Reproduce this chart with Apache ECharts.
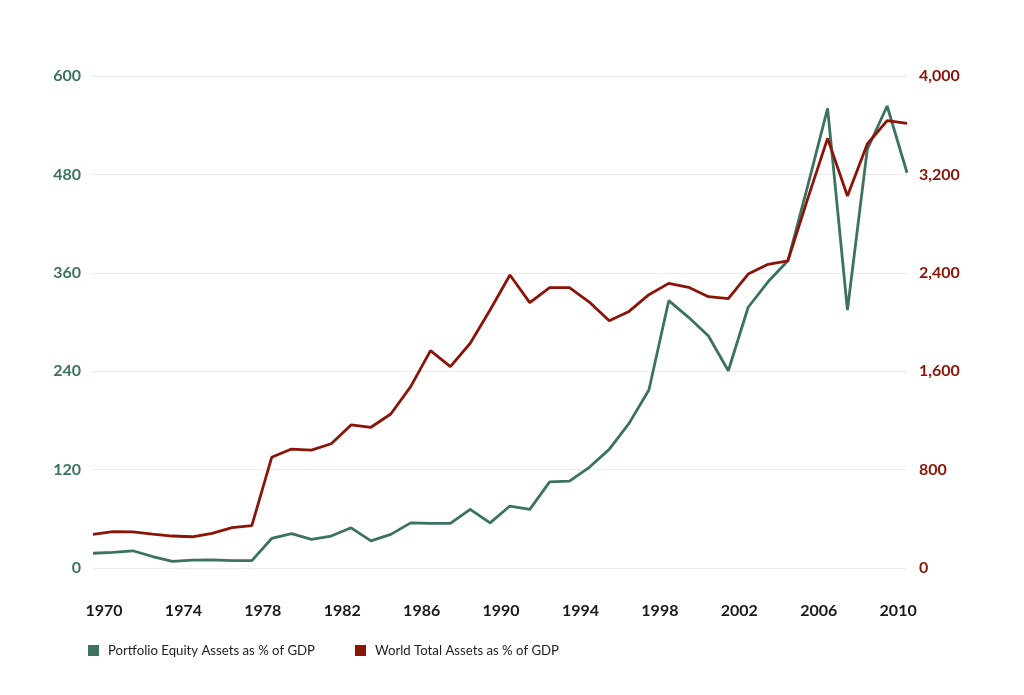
<!DOCTYPE html>
<html>
<head>
<meta charset="utf-8">
<script src="https://cdn.jsdelivr.net/npm/echarts@6/dist/echarts.min.js"></script>
<style>html,body{margin:0;padding:0;background:#fff;}#c{width:1024px;height:695px;}</style>
</head>
<body>
<div id="c"></div>
<script>
var years = [];
for (var y = 1970; y <= 2011; y++) years.push(String(y));

var equityAssets = [18, 19, 21, 14, 8, 9.5, 10, 9, 9, 36, 42, 35, 39, 49, 33, 41, 55, 54.5, 54.5, 71.5, 55, 75.6, 71.5, 105, 106, 122.8, 144.7, 176.4, 217, 326, 305.7, 283, 240.6, 318, 349, 374.7, 466, 560.6, 314.6, 510.6, 563.4, 482];
var totalAssets = [274, 295, 293, 276, 260, 254, 282, 328, 345, 900, 967, 959, 1010, 1163, 1144, 1252, 1474, 1767, 1637, 1827, 2098, 2382, 2157, 2279, 2279, 2162, 2010, 2086, 2222, 2314, 2282, 2206, 2190, 2390, 2469, 2497, 3003, 3493, 3024, 3447, 3637, 3615];

var leftTicks = {min: 0, max: 600, interval: 120};
var rightTicks = {min: 0, max: 4000, interval: 800};

var green = '#3b7261';
var red = '#8b1409';
var font = 'Lato, "Open Sans", sans-serif';

var chart = echarts.init(document.getElementById('c'), null, {renderer: 'canvas'});
chart.setOption({
  animation: false,
  backgroundColor: '#fff',
  grid: {left: 93, right: 117, top: 76, bottom: 127, containLabel: false},
  legend: {
    left: 83, top: 639,
    icon: 'rect', itemWidth: 11, itemHeight: 11, itemGap: 40,
    textStyle: {fontFamily: font, fontSize: 13.2, color: '#222', padding: [0, 0, 0, 4]},
    data: ['Portfolio Equity Assets as % of GDP', 'World Total Assets as % of GDP']
  },
  xAxis: {
    type: 'category', data: years, boundaryGap: false,
    axisLine: {show: false}, axisTick: {show: false},
    axisLabel: {interval: 3, margin: 35, fontFamily: font, fontSize: 16, fontWeight: 'bold', color: '#1a1a1a', padding: [0, 0, 0, 22]},
    splitLine: {show: false}
  },
  yAxis: [
    {
      type: 'value', min: leftTicks.min, max: leftTicks.max, interval: leftTicks.interval,
      axisLine: {show: false}, axisTick: {show: false},
      axisLabel: {margin: 12, fontFamily: font, fontSize: 16, fontWeight: 'bold', color: green},
      splitLine: {lineStyle: {color: '#ececec', width: 1}}
    },
    {
      type: 'value', min: rightTicks.min, max: rightTicks.max, interval: rightTicks.interval,
      axisLine: {show: false}, axisTick: {show: false},
      axisLabel: {margin: 12, fontFamily: font, fontSize: 16, fontWeight: 'bold', color: red,
        formatter: function (v) { return v.toLocaleString('en-US'); }},
      splitLine: {show: false}
    }
  ],
  series: [
    {name: 'Portfolio Equity Assets as % of GDP', type: 'line', yAxisIndex: 0, data: equityAssets,
      showSymbol: false, symbol: 'none', lineStyle: {color: green, width: 2.8}, itemStyle: {color: green}},
    {name: 'World Total Assets as % of GDP', type: 'line', yAxisIndex: 1, data: totalAssets,
      showSymbol: false, symbol: 'none', lineStyle: {color: red, width: 2.8}, itemStyle: {color: red}}
  ]
});
</script>
</body>
</html>
